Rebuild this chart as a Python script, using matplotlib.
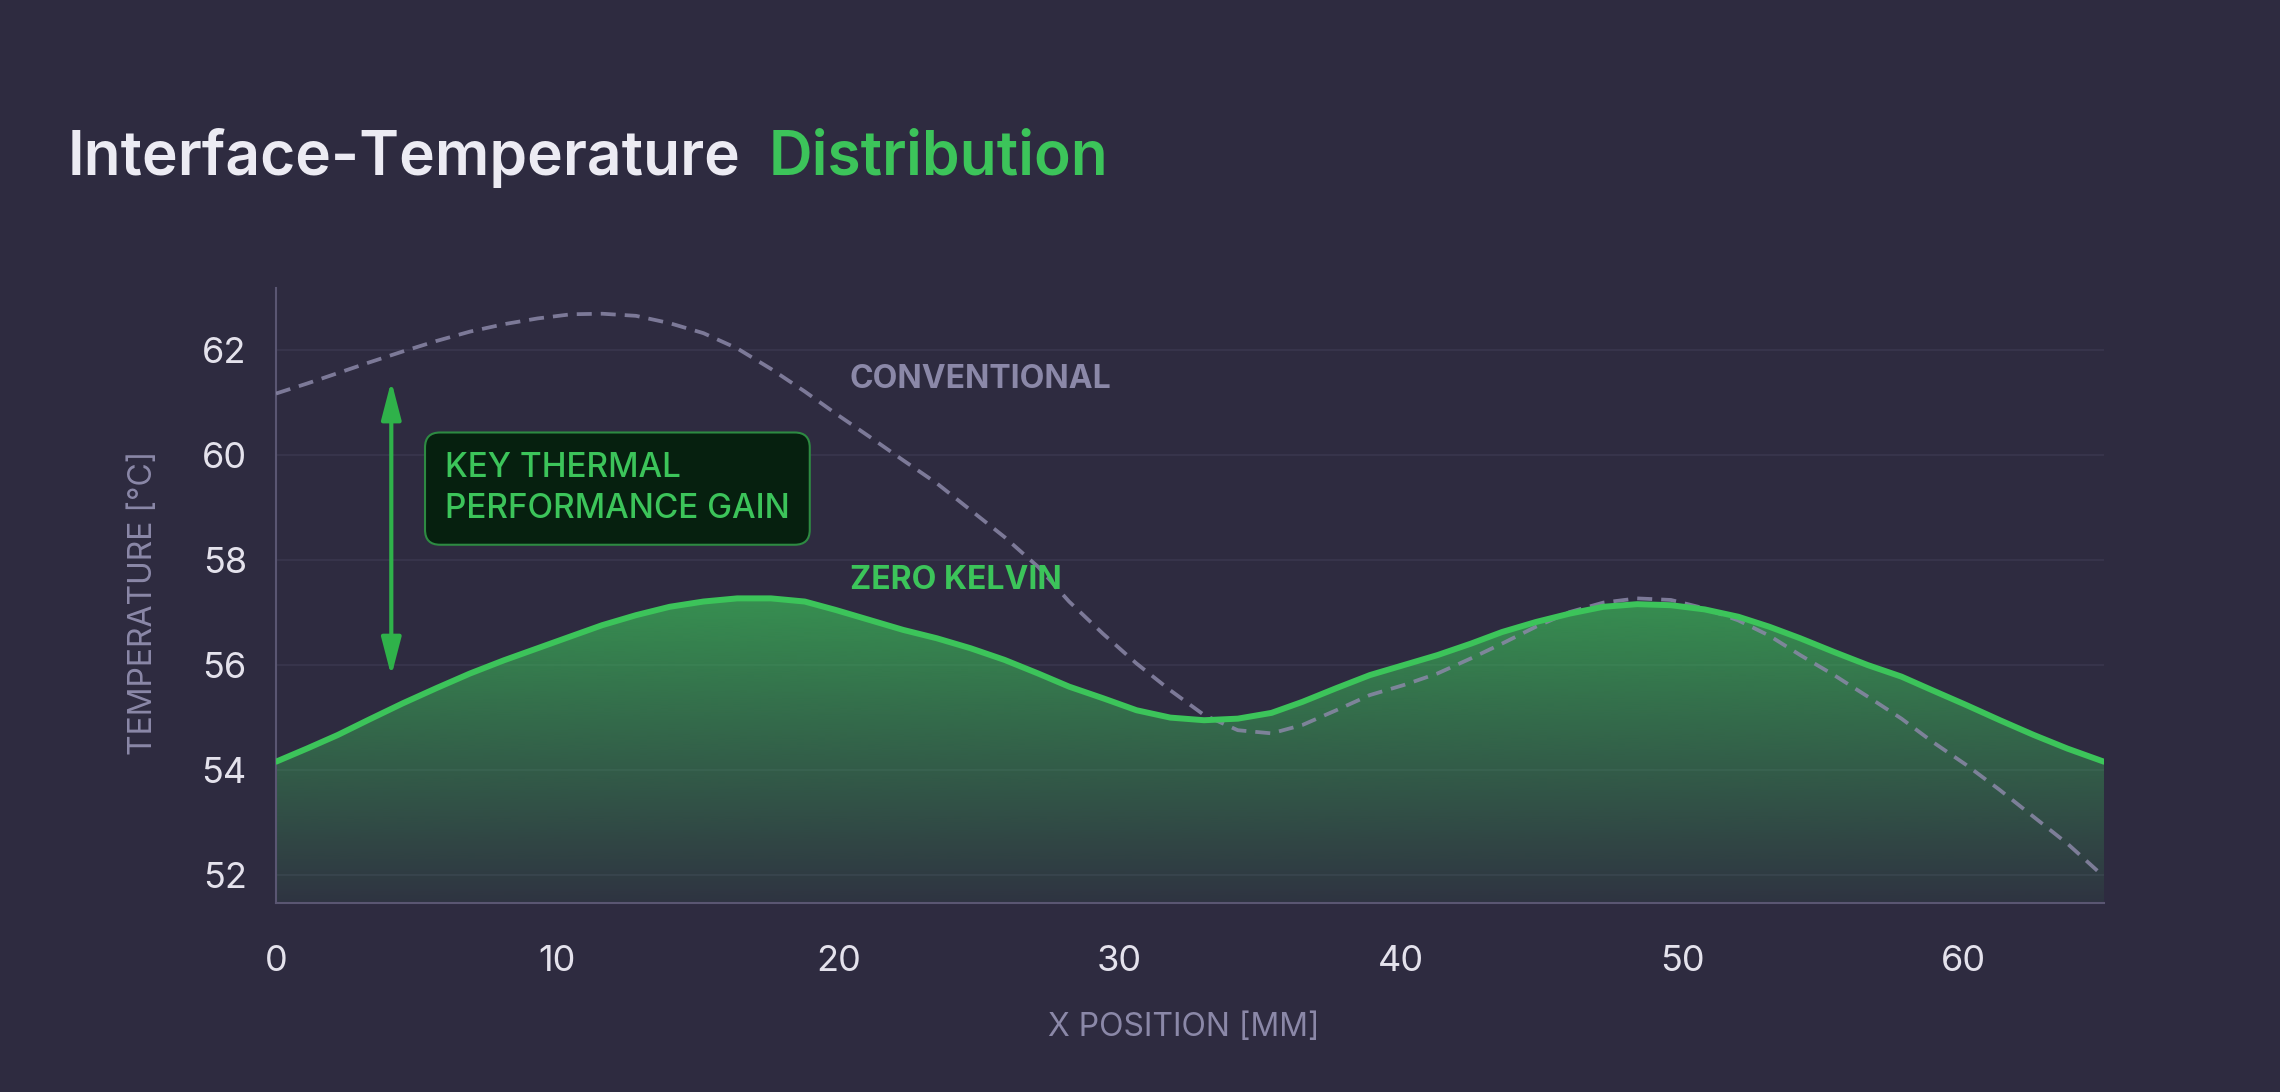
import numpy as np
import matplotlib
matplotlib.use("Agg")
import matplotlib.pyplot as plt
from matplotlib.colors import to_rgb

BG = "#2e2b40"
GREEN = "#3cc45a"
ARROW_GREEN = "#2fb24a"
GREY = "#8b88a8"
TICK_COLOR = "#e4e2ec"
GRID_COLOR = "#3a374e"
SPINE_COLOR = "#5a5672"

plt.rcParams['font.family'] = ['Inter', 'DejaVu Sans']

# values, x in mm
x_mm = [0, 1.1, 2.2, 3.3, 4.5, 5.7, 6.9, 8.1, 9.3, 10.5, 11.6, 12.8, 14.0, 15.2,
        16.4, 17.6, 18.8, 19.9, 21.1, 22.3, 23.5, 24.7, 25.9, 27.1, 28.2, 29.4,
        30.6, 31.8, 33.0, 34.2, 35.4, 36.5, 37.7, 38.9, 40.1, 41.3, 42.5, 43.6,
        44.8, 46.0, 47.2, 48.4, 49.6, 50.8, 52.0, 53.1, 54.2, 55.4, 56.6, 57.8,
        58.9, 60.1, 61.3, 62.5, 63.7, 65.0]
zero_kelvin = [54.16, 54.41, 54.67, 54.96, 55.27, 55.56, 55.84, 56.09, 56.32, 56.55,
               56.76, 56.95, 57.11, 57.21, 57.27, 57.27, 57.21, 57.05, 56.86, 56.67,
               56.51, 56.32, 56.10, 55.84, 55.59, 55.37, 55.14, 55.00, 54.95, 54.98,
               55.09, 55.30, 55.56, 55.81, 56.00, 56.19, 56.41, 56.63, 56.82, 56.98,
               57.11, 57.16, 57.14, 57.06, 56.92, 56.73, 56.51, 56.25, 56.00, 55.78,
               55.52, 55.24, 54.95, 54.67, 54.41, 54.16]
conventional = [61.17, 61.36, 61.56, 61.76, 61.97, 62.17, 62.35, 62.49, 62.60, 62.68,
                62.69, 62.65, 62.51, 62.32, 62.03, 61.64, 61.21, 60.79, 60.35, 59.90,
                59.46, 58.95, 58.44, 57.87, 57.21, 56.60, 56.03, 55.52, 55.05, 54.76,
                54.70, 54.86, 55.14, 55.43, 55.62, 55.84, 56.13, 56.41, 56.73, 57.01,
                57.19, 57.27, 57.24, 57.08, 56.85, 56.56, 56.19, 55.81, 55.40, 54.98,
                54.54, 54.10, 53.62, 53.11, 52.60, 51.97]
y_ticks = [52, 54, 56, 58, 60, 62]
x_ticks = [0, 10, 20, 30, 40, 50, 60]

XLIM = (0, 65)
YLIM = (51.47, 63.18)

fig = plt.figure(figsize=(22.8, 10.92), dpi=100, facecolor=BG)
ax = fig.add_axes([0.12105, 0.17308, 0.80175, 0.56319])
ax.set_facecolor(BG)
ax.set_xlim(*XLIM)
ax.set_ylim(*YLIM)

# gradient fill under the zero kelvin curve
poly = ax.fill_between(x_mm, zero_kelvin, YLIM[0], color="none", lw=0)
top = max(zero_kelvin)
n = 256
rgba = np.zeros((n, 1, 4))
rgba[..., :3] = to_rgb(GREEN)
rgba[..., 3] = np.linspace(0.06, 0.66, n)[:, None]
img = ax.imshow(rgba, extent=[XLIM[0], XLIM[1], YLIM[0], top], origin="lower",
                aspect="auto", zorder=2, interpolation="bicubic")
img.set_clip_path(poly.get_paths()[0], transform=ax.transData)

ax.plot(x_mm, conventional, color=GREY, lw=2.7, alpha=0.85,
        linestyle=(0, (4, 2.4)), zorder=3)
ax.plot(x_mm, zero_kelvin, color=GREEN, lw=4.3, zorder=4,
        solid_capstyle="round", solid_joinstyle="round")

ax.set_yticks(y_ticks)
ax.set_xticks(x_ticks)
ax.grid(axis="y", color=GRID_COLOR, lw=1.2)
ax.set_axisbelow(True)
ax.tick_params(axis="both", length=0, colors=TICK_COLOR, labelsize=26)
ax.tick_params(axis="y", pad=21)
ax.tick_params(axis="x", pad=30)
for side in ["top", "right"]:
    ax.spines[side].set_visible(False)
for side in ["left", "bottom"]:
    ax.spines[side].set_color(SPINE_COLOR)
    ax.spines[side].set_linewidth(1.5)

# series labels
ax.text(20.4, 61.43, "CONVENTIONAL", color=GREY, fontsize=23, fontweight="bold",
        ha="left", va="center", zorder=5)
ax.text(20.4, 57.62, "ZERO KELVIN", color=GREEN, fontsize=23, fontweight="bold",
        ha="left", va="center", zorder=5)

# performance gain arrow + callout
ax.annotate("", xy=(4.1, 61.41), xytext=(4.1, 55.79),
            arrowprops=dict(arrowstyle="<|-|>,head_length=0.77,head_width=0.2",
                            color=ARROW_GREEN, lw=3, mutation_scale=30,
                            shrinkA=0, shrinkB=0), zorder=5)
ax.text(6.01, 59.36, "KEY THERMAL\nPERFORMANCE GAIN", color=GREEN, fontsize=24,
        fontweight="medium", ha="left", va="center", linespacing=1.33, zorder=6,
        bbox=dict(boxstyle="round,pad=0.6,rounding_size=0.45", fc="#06200f",
                  ec="#2d8a42", lw=1.5))

# axis titles
fig.text(143 / 2280, 1 - 603 / 1092, "TEMPERATURE [°C]", rotation=90, color=GREY,
         fontsize=23, ha="center", va="center")
fig.text(1184 / 2280, 1 - 1028 / 1092, "X POSITION [MM]", color=GREY,
         fontsize=23, ha="center", va="center")

# two-coloured title
t1 = fig.text(68 / 2280, 1 - 174.5 / 1092, "Interface-Temperature", color="#ecebf3",
              fontsize=43.5, fontweight="semibold", ha="left", va="baseline")
fig.canvas.draw()
bb = t1.get_window_extent()
fig.text((bb.x1 + 28) / 2280, 1 - 174.5 / 1092, "Distribution", color=GREEN,
         fontsize=43.5, fontweight="semibold", ha="left", va="baseline")

fig.savefig("out.png", dpi=100, facecolor=BG)
plt.close(fig)
